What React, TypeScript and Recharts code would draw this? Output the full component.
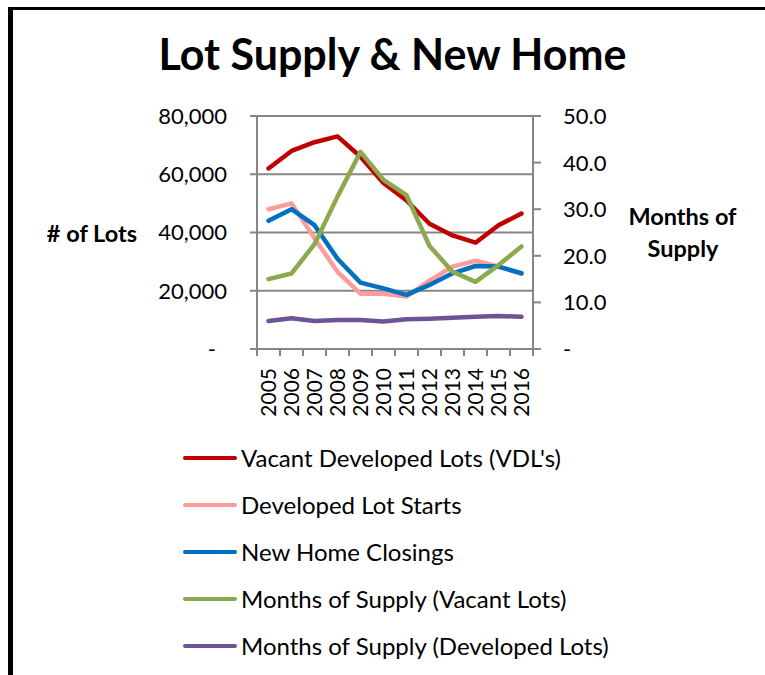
import React from 'react';
import { ComposedChart, Line, XAxis, YAxis, CartesianGrid, Legend } from 'recharts';

const years = ['2005', '2006', '2007', '2008', '2009', '2010', '2011', '2012', '2013', '2014', '2015', '2016'];
const vacantLots = [62000, 68000, 71000, 73000, 66000, 57000, 51000, 43000, 39000, 36500, 42500, 46500];
const lotStarts = [48000, 50000, 38000, 26500, 19000, 19000, 18000, 23500, 28300, 30300, 28300, 25800];
const homeClosings = [44000, 48000, 42500, 31000, 22800, 20800, 18600, 22000, 26000, 28500, 28300, 26000];
const mosVacant = [15.0, 16.2, 22.5, 32.7, 42.3, 36.3, 33.0, 22.1, 16.6, 14.4, 18.0, 22.0];
const mosDeveloped = [6.0, 6.6, 6.0, 6.2, 6.2, 5.9, 6.4, 6.5, 6.7, 6.9, 7.1, 6.9];

const leftTicks = [0, 20000, 40000, 60000, 80000];
const rightTicks = [0, 10, 20, 30, 40, 50];

const series = [
  { key: 'vdl', name: "Vacant Developed Lots (VDL's)", color: '#C00000', axis: 'left' },
  { key: 'starts', name: 'Developed Lot Starts', color: '#FF9B9B', axis: 'left' },
  { key: 'closings', name: 'New Home Closings', color: '#0070C0', axis: 'left' },
  { key: 'mosVacant', name: 'Months of Supply (Vacant Lots)', color: '#8BA94E', axis: 'right' },
  { key: 'mosDev', name: 'Months of Supply (Developed Lots)', color: '#6E5496', axis: 'right' },
];

const data = years.map((year, i) => ({
  year,
  vdl: vacantLots[i],
  starts: lotStarts[i],
  closings: homeClosings[i],
  mosVacant: mosVacant[i],
  mosDev: mosDeveloped[i],
}));

const FONT = 'Lato, sans-serif';
const GREY = '#868686';

const LeftTick = ({ x, y, payload }: any) => (
  <text x={payload.value === 0 ? x - 11 : x} y={y} dy="0.36em" textAnchor="end" fontFamily={FONT} fontSize={22} fill="#000">
    {payload.value === 0 ? '-' : Number(payload.value).toLocaleString('en-US')}
  </text>
);

const RightTick = ({ x, y, payload }: any) => (
  <text x={x} y={y} dy="0.36em" textAnchor="start" fontFamily={FONT} fontSize={22} fill="#000">
    {payload.value === 0 ? '-' : Number(payload.value).toFixed(1)}
  </text>
);

// category axis sits "between tick marks": tick lines at band edges, label at band centre
const YearTick = ({ x, y, payload, index }: any) => {
  const half = payload.offset || 0;
  const axisY = y - 19;
  return (
    <g>
      <line x1={x - half} x2={x - half} y1={axisY} y2={axisY + 7} stroke={GREY} strokeWidth={2} />
      {index === years.length - 1 && (
        <line x1={x + half} x2={x + half} y1={axisY} y2={axisY + 7} stroke={GREY} strokeWidth={2} />
      )}
      <g transform={`translate(${x},${y})`}>
        <text transform="rotate(-90)" textAnchor="end" dy="0.36em" fontFamily={FONT} fontSize={21} fill="#000">
          {payload.value}
        </text>
      </g>
    </g>
  );
};

const LegendContent = () => (
  <div style={{ fontFamily: FONT, fontSize: 24, color: '#000' }}>
    {series.map(s => (
      <div key={s.key} style={{ display: 'flex', alignItems: 'center', height: 47 }}>
        <div style={{ width: 54, height: 4, borderRadius: 2, background: s.color, marginRight: 4 }} />
        <span style={{ whiteSpace: 'nowrap' }}>{s.name}</span>
      </div>
    ))}
  </div>
);

export default function App() {
  return (
    <div style={{ position: 'absolute', left: 0, top: 0, width: 765, height: 675, background: '#fff' }}>
      <ComposedChart width={765} height={675} data={data} margin={{ top: 116, right: 122, bottom: 325, left: 147 }}>
        <CartesianGrid horizontal vertical={false} stroke={GREY} strokeWidth={2} yAxisId="left" />
        <XAxis dataKey="year" scale="band" interval={0} height={1} axisLine={{ stroke: GREY, strokeWidth: 2 }} tickLine={false}
          tickSize={0} tickMargin={19} tick={<YearTick />} />
        <YAxis yAxisId="left" domain={[0, 80000]} ticks={leftTicks} width={110} tickSize={7} tickMargin={23}
          axisLine={{ stroke: GREY, strokeWidth: 2 }} tickLine={{ stroke: GREY, strokeWidth: 2 }} tick={<LeftTick />} />
        <YAxis yAxisId="right" orientation="right" domain={[0, 50]} ticks={rightTicks} width={110} tickSize={8} tickMargin={22}
          axisLine={{ stroke: GREY, strokeWidth: 2 }} tickLine={{ stroke: GREY, strokeWidth: 2 }} tick={<RightTick />} />
        <Legend layout="vertical" align="center" verticalAlign="middle" content={<LegendContent />}
          wrapperStyle={{ position: 'absolute', left: 183, top: 434, width: 'auto' }} />
        {series.map(s => (
          <Line
            key={s.key}
            yAxisId={s.axis}
            type="linear"
            dataKey={s.key}
            name={s.name}
            stroke={s.color}
            strokeWidth={4.5}
            strokeLinejoin="round"
            strokeLinecap="round"
            dot={false}
            activeDot={false}
            isAnimationActive={false}
          />
        ))}
      </ComposedChart>
      <svg width={765} height={675} style={{ position: 'absolute', left: 0, top: 0, pointerEvents: 'none' }}>
        <rect x={8} y={7} width={757} height={3} fill="#000" />
        <rect x={8} y={7} width={5} height={668} fill="#000" />
        <text x={392.5} y={70} textAnchor="middle" fontFamily={FONT} fontWeight="bold" fontSize={43} fill="#000">
          Lot Supply &amp; New Home
        </text>
        <text x={137} y={242} textAnchor="end" fontFamily={FONT} fontWeight="bold" fontSize={23.5} fill="#000">
          # of Lots
        </text>
        <text x={682.5} y={225} textAnchor="middle" fontFamily={FONT} fontWeight="bold" fontSize={23.5} fill="#000">
          Months of
        </text>
        <text x={683} y={257} textAnchor="middle" fontFamily={FONT} fontWeight="bold" fontSize={23.5} fill="#000">
          Supply
        </text>
      </svg>
    </div>
  );
}
